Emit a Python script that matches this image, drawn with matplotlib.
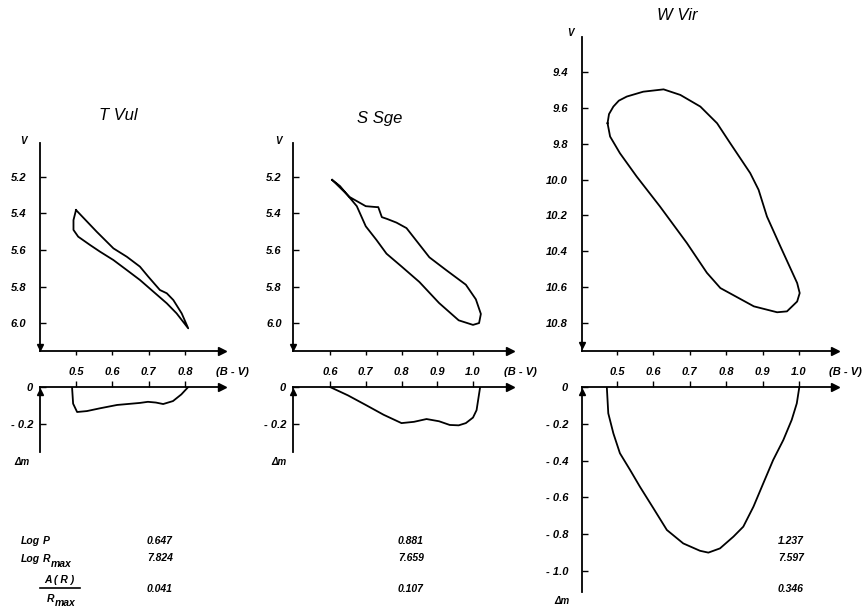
import numpy as np
import matplotlib
matplotlib.use('Agg')
import matplotlib.pyplot as plt

plt.rcParams['font.family'] = ['Liberation Sans', 'DejaVu Sans']
plt.rcParams['font.style'] = 'italic'
plt.rcParams['font.weight'] = 'bold'

W, H = 863, 608

# ---- data ----
names = ['T Vul', 'S Sge', 'W Vir']

# colour-magnitude loops (B-V, V)
tvul_bv = [0.500, 0.557, 0.603, 0.640, 0.676, 0.699, 0.731, 0.750, 0.768, 0.791, 0.809,
           0.777, 0.750, 0.713, 0.676, 0.640, 0.603, 0.566, 0.539, 0.506, 0.493, 0.493, 0.500]
tvul_v = [5.381, 5.500, 5.591, 5.637, 5.691, 5.746, 5.819, 5.837, 5.874, 5.947, 6.029,
          5.947, 5.892, 5.828, 5.764, 5.710, 5.655, 5.609, 5.573, 5.527, 5.490, 5.436, 5.381]

ssge_bv = [0.606, 0.655, 0.700, 0.730, 0.735, 0.745, 0.760, 0.786, 0.814, 0.878, 0.925, 0.980,
           1.008, 1.022, 1.017, 1.000, 0.960, 0.905, 0.850, 0.800, 0.758, 0.730, 0.700, 0.675,
           0.628, 0.606]
ssge_v = [5.216, 5.310, 5.360, 5.365, 5.365, 5.420, 5.430, 5.450, 5.480, 5.640, 5.710, 5.790,
          5.870, 5.950, 6.000, 6.010, 5.985, 5.890, 5.775, 5.690, 5.620, 5.545, 5.470, 5.360,
          5.250, 5.216]

wvir_bv = [0.474, 0.478, 0.490, 0.505, 0.527, 0.572, 0.628, 0.674, 0.729, 0.775, 0.811, 0.866,
           0.889, 0.912, 0.949, 0.995, 1.002, 0.995, 0.967, 0.940, 0.876, 0.784, 0.747, 0.692,
           0.618, 0.554, 0.508, 0.481, 0.474]
wvir_v = [9.686, 9.635, 9.593, 9.560, 9.537, 9.510, 9.497, 9.528, 9.593, 9.686, 9.797, 9.964,
          10.057, 10.206, 10.373, 10.577, 10.633, 10.680, 10.735, 10.740, 10.707, 10.605, 10.520,
          10.354, 10.150, 9.983, 9.853, 9.760, 9.686]

# amplitude curves (B-V, delta m)
tvul_dm_bv = [0.489, 0.492, 0.503, 0.530, 0.566, 0.613, 0.676, 0.698, 0.720, 0.740, 0.767, 0.790, 0.809]
tvul_dm = [0.0, -0.09, -0.135, -0.13, -0.115, -0.097, -0.086, -0.080, -0.084, -0.092, -0.076, -0.040, 0.0]

ssge_dm_bv = [0.600, 0.650, 0.700, 0.750, 0.800, 0.835, 0.870, 0.905, 0.935, 0.960, 0.980, 1.000, 1.010, 1.020]
ssge_dm = [0.0, -0.045, -0.097, -0.150, -0.195, -0.188, -0.173, -0.185, -0.205, -0.207, -0.195, -0.165, -0.125, 0.0]

wvir_dm_bv = [0.472, 0.476, 0.490, 0.508, 0.536, 0.563, 0.600, 0.637, 0.682, 0.728, 0.751, 0.783,
              0.820, 0.847, 0.875, 0.902, 0.929, 0.957, 0.980, 0.994, 1.001]
wvir_dm = [0.0, -0.143, -0.252, -0.360, -0.451, -0.542, -0.659, -0.777, -0.850, -0.890, -0.900,
           -0.877, -0.813, -0.759, -0.650, -0.523, -0.397, -0.288, -0.179, -0.089, 0.0]

# ticks
tvul_xt = [0.5, 0.6, 0.7, 0.8]
ssge_xt = [0.6, 0.7, 0.8, 0.9, 1.0]
wvir_xt = [0.5, 0.6, 0.7, 0.8, 0.9, 1.0]
tvul_yt = [5.2, 5.4, 5.6, 5.8, 6.0]
ssge_yt = [5.2, 5.4, 5.6, 5.8, 6.0]
wvir_yt = [9.4, 9.6, 9.8, 10.0, 10.2, 10.4, 10.6, 10.8]
small_dmt = [0.0, -0.2]
wvir_dmt = [0.0, -0.2, -0.4, -0.6, -0.8, -1.0]

log_p = ['0.647', '0.881', '1.237']
log_rmax = ['7.824', '7.659', '7.597']
a_ratio = ['0.041', '0.107', '0.346']


def box(L, R, T, B):
    return [L / W, 1 - B / H, (R - L) / W, (B - T) / H]


def ptext(x, y, s, **kw):
    fig.text(x / W, 1 - y / H, s, **kw)


def dm_fmt(v):
    return '0' if v == 0 else '- %.1f' % abs(v)


fig = plt.figure(figsize=(W / 100, H / 100), dpi=100)
lw = 1.3

panels = [
    dict(L=40, R=222, T=143, B=351, LB=452, xlim=(0.4008, 0.902), ylim=(6.153, 5.014),
         dmlim=(-0.351, 0), bv=tvul_bv, v=tvul_v, dbv=tvul_dm_bv, dm=tvul_dm,
         xt=tvul_xt, yt=tvul_yt, dmt=small_dmt, title=(118, 115), vlab=(23, 141), mlab=(22, 462),
         ypad=10, dpad=5, col=147),
    dict(L=293, R=510, T=143, B=351, LB=452, xlim=(0.4965, 1.1035), ylim=(6.153, 5.014),
         dmlim=(-0.351, 0), bv=ssge_bv, v=ssge_v, dbv=ssge_dm_bv, dm=ssge_dm,
         xt=ssge_xt, yt=ssge_yt, dmt=small_dmt, title=(380, 118), vlab=(278, 141), mlab=(279, 462),
         ypad=8, dpad=5, col=398),
    dict(L=582, R=835, T=37, B=351, LB=592, xlim=(0.4038, 1.099), ylim=(10.956, 9.205),
         dmlim=(-1.114, 0), bv=wvir_bv, v=wvir_v, dbv=wvir_dm_bv, dm=wvir_dm,
         xt=wvir_xt, yt=wvir_yt, dmt=wvir_dmt, title=(677, 15), vlab=(570, 33), mlab=(562, 601),
         ypad=10, dpad=10, col=778),
]

for name, p in zip(names, panels):
    # colour-magnitude diagram
    ax = fig.add_axes(box(p['L'], p['R'], p['T'], p['B']))
    ax.plot(p['bv'], p['v'], color='k', lw=lw, solid_joinstyle='round')
    ax.set_xlim(*p['xlim'])
    ax.set_ylim(*p['ylim'])
    ax.spines[['top', 'right']].set_visible(False)
    for s in ['left', 'bottom']:
        ax.spines[s].set_linewidth(1.3)
    ax.set_xticks(p['xt'])
    ax.tick_params(axis='x', direction='out', length=3, width=1, labelbottom=False)
    ax.set_yticks(p['yt'])
    ax.set_yticklabels(['%.1f' % t for t in p['yt']], fontsize=8)
    ax.tick_params(axis='y', direction='in', length=4, width=1, pad=p['ypad'])
    ax.plot(1, 0, '>', color='k', ms=6, transform=ax.transAxes, clip_on=False)
    ax.plot(0, 0.02, 'v', color='k', ms=4, transform=ax.transAxes, clip_on=False)
    ptext(p['title'][0], p['title'][1], name, fontsize=12, fontweight='normal',
          ha='center', va='center')
    ptext(p['vlab'][0], p['vlab'][1], 'V', fontsize=7, ha='center', va='center')
    ptext(p['R'] + 27, 372, '(B - V)', fontsize=8, ha='right', va='center')

    # amplitude panel
    bx = fig.add_axes(box(p['L'], p['R'], 387, p['LB']))
    bx.plot(p['dbv'], p['dm'], color='k', lw=lw, solid_joinstyle='round')
    bx.set_xlim(*p['xlim'])
    bx.set_ylim(*p['dmlim'])
    bx.spines[['bottom', 'right']].set_visible(False)
    for s in ['left', 'top']:
        bx.spines[s].set_linewidth(1.3)
    bx.xaxis.tick_top()
    bx.set_xticks(p['xt'])
    bx.set_xticklabels(['%.1f' % t for t in p['xt']], fontsize=8)
    bx.tick_params(axis='x', direction='out', length=4, width=1, pad=3)
    bx.set_yticks(p['dmt'])
    bx.set_yticklabels([dm_fmt(t) for t in p['dmt']], fontsize=8)
    bx.tick_params(axis='y', direction='in', length=4, width=1, pad=p['dpad'])
    bx.plot(1, 1, '>', color='k', ms=6, transform=bx.transAxes, clip_on=False)
    bx.plot(0, 1 - 5 / (p['LB'] - 387), '^', color='k', ms=4, transform=bx.transAxes,
            clip_on=False)
    ptext(p['mlab'][0], p['mlab'][1], '\u0394m', fontsize=7, ha='center', va='center')

# parameter table
fs = 7.5
ptext(21, 541, 'Log', fontsize=fs, va='center')
ptext(43, 541, 'P', fontsize=fs, va='center')
ptext(21, 559, 'Log', fontsize=fs, va='center')
ptext(43, 559, 'R', fontsize=fs, va='center')
ptext(51, 564, 'max', fontsize=fs, va='center')
ptext(59, 580, 'A ( R )', fontsize=fs, ha='center', va='center')
fig.add_artist(plt.Line2D([40 / W, 80 / W], [1 - 588 / H, 1 - 588 / H], color='k', lw=1.2))
ptext(47, 599, 'R', fontsize=fs, va='center')
ptext(55, 603, 'max', fontsize=fs, va='center')
for i, p in enumerate(panels):
    ptext(p['col'], 541, log_p[i], fontsize=fs, va='center')
    ptext(p['col'], 558, log_rmax[i], fontsize=fs, va='center')
    ptext(p['col'], 589, a_ratio[i], fontsize=fs, va='center')

fig.savefig('out.png', dpi=100)
